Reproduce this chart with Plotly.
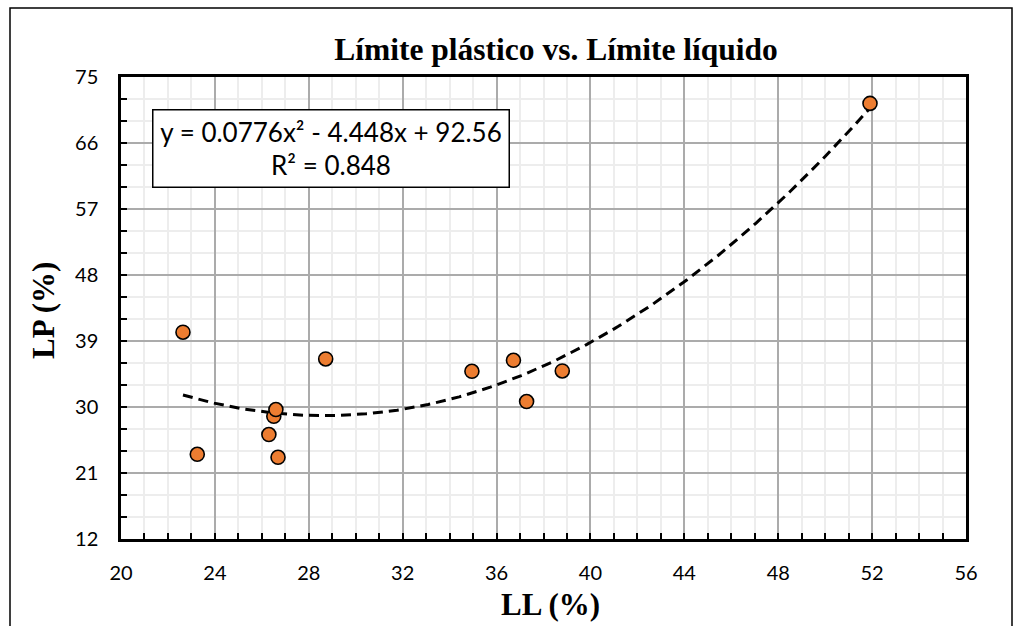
import numpy as np
import plotly.graph_objects as go

# Data
ll_values = [22.64, 23.25, 26.30, 26.51, 26.60, 26.69, 28.72, 34.95, 36.72, 37.28, 38.80, 51.91]
lp_values = [40.2, 23.55, 26.24, 28.73, 29.65, 23.14, 36.55, 34.87, 36.37, 30.74, 34.91, 71.4]
trend_coeffs = [0.0776, -4.448, 92.56]  # y = a x^2 + b x + c (shown on chart)
equation_text = "y = 0.0776x² - 4.448x + 92.56<br>R² = 0.848"
x_ticks = [20, 24, 28, 32, 36, 40, 44, 48, 52, 56]
y_ticks = [12, 21, 30, 39, 48, 57, 66, 75]

xt = np.linspace(min(ll_values), max(ll_values), 200)
yt = np.polyval(trend_coeffs, xt)

fig = go.Figure()
fig.add_trace(go.Scatter(x=xt, y=yt, mode="lines",
                         line=dict(color="black", width=3, dash="10px,6px"),
                         hoverinfo="skip", showlegend=False))
fig.add_trace(go.Scatter(x=ll_values, y=lp_values, mode="markers",
                         marker=dict(size=14, color="#ED7D31",
                                     line=dict(color="black", width=1.6)),
                         showlegend=False))

tickfont = dict(family="Lato, Open Sans, sans-serif", size=20, color="black")
serif = "Liberation Serif, Times New Roman, serif"

L, R, T, B = 121, 54, 77, 87
PW, PH = 1020 - L - R, 626 - T - B

def px_to_paper_x(px):
    return (px - L) / PW

def px_to_paper_y(py):
    return 1 - (py - T) / PH

fig.update_layout(
    width=1020, height=626,
    margin=dict(l=L, r=R, t=T, b=B),
    paper_bgcolor="white", plot_bgcolor="white",
    title=dict(text="<b>Límite plástico vs. Límite líquido</b>",
               font=dict(family=serif, size=31.5, color="black"),
               x=px_to_paper_x(556), xref="paper", xanchor="center",
               y=1 - 49 / 626, yref="container", yanchor="middle"),
    xaxis=dict(range=[20, 56], tickvals=x_ticks, ticktext=[str(v) for v in x_ticks],
               showgrid=True, gridcolor="#ABABAB", gridwidth=1.5,
               ticks="inside", ticklen=6, tickcolor="black", tickwidth=1.5,
               minor=dict(dtick=1, tick0=20, showgrid=True, gridcolor="#EDEDED", gridwidth=1.5,
                          ticks="inside", ticklen=6, tickcolor="black", tickwidth=1.5),
               showline=True, linecolor="black", linewidth=2.5, mirror=True,
               zeroline=False, tickfont=tickfont, ticklabelstandoff=14),
    yaxis=dict(range=[12, 75], tickvals=y_ticks, ticktext=[str(v) for v in y_ticks],
               showgrid=True, gridcolor="#ABABAB", gridwidth=1.5,
               ticks="inside", ticklen=6, tickcolor="black", tickwidth=1.5,
               minor=dict(dtick=3, tick0=12, showgrid=True, gridcolor="#EDEDED", gridwidth=1.5,
                          ticks="inside", ticklen=6, tickcolor="black", tickwidth=1.5),
               showline=True, linecolor="black", linewidth=2.5, mirror=True,
               zeroline=False, tickfont=tickfont, ticklabelstandoff=16),
    annotations=[
        dict(text=equation_text, xref="paper", yref="paper",
             x=px_to_paper_x(330.5), y=px_to_paper_y(148),
             xanchor="center", yanchor="middle", showarrow=False,
             align="center", font=dict(family="Lato, Open Sans, sans-serif", size=26, color="black"),
             width=349, height=70,
             bgcolor="white", bordercolor="black", borderwidth=1.5, borderpad=3),
        dict(text="<b>LL (%)</b>", xref="paper", yref="paper",
             x=px_to_paper_x(550), y=px_to_paper_y(604),
             xanchor="center", yanchor="middle", showarrow=False,
             font=dict(family=serif, size=31, color="black")),
        dict(text="<b>LP (%)</b>", xref="paper", yref="paper",
             x=px_to_paper_x(43), y=px_to_paper_y(311),
             xanchor="center", yanchor="middle", showarrow=False, textangle=-90,
             font=dict(family=serif, size=31, color="black")),
    ],
    shapes=[dict(type="rect", xref="paper", yref="paper",
                 x0=px_to_paper_x(10), x1=px_to_paper_x(1012),
                 y0=px_to_paper_y(700), y1=px_to_paper_y(8),
                 line=dict(color="black", width=1.5), layer="below")],
)

fig.write_html("out.html")
